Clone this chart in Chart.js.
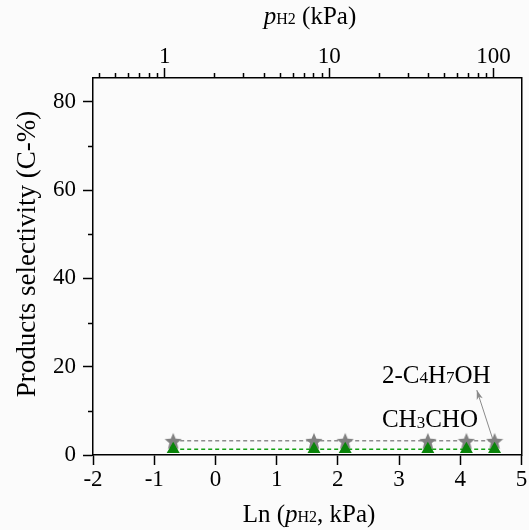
<!DOCTYPE html>
<html lang="en">
<head>
  <meta charset="UTF-8" />
  <title>Products selectivity vs Ln(pH2)</title>
  <script src="https://cdn.jsdelivr.net/npm/chart.js"></script>
  <style>
    body { margin: 0; background: #fbfbfb; }
    #wrap { width: 529px; height: 530px; }
  </style>
</head>
<body>
  <div id="wrap"><canvas id="chart" width="529" height="530"></canvas></div>

  <script>
    // ── data ─────────────────────────────────────────────────
    const lnP = [-0.69, 1.61, 2.12, 3.47, 4.10, 4.56];
    const butenol = [3.2, 3.2, 3.2, 3.2, 3.2, 3.2];       // 2-C4H7OH (grey stars)
    const acetaldehyde = [1.3, 1.3, 1.3, 1.3, 1.3, 1.3];  // CH3CHO (green triangles)

    const xTicks = [-2, -1, 0, 1, 2, 3, 4, 5];
    const yMajorTicks = [0, 20, 40, 60, 80];
    const yMinorTicks = [10, 30, 50, 70];
    const topMajorTicks = [1, 10, 100];
    const topMinorTicks = [0.4, 0.5, 0.6, 0.7, 0.8, 0.9, 2, 3, 4, 5, 6, 7, 8, 9, 20, 30, 40, 50, 60, 70, 80, 90];

    const SERIF = '"Liberation Serif", "Times New Roman", serif';

    // filled five point star marker
    function starImage(size, color) {
      const c = document.createElement('canvas');
      c.width = size; c.height = size;
      const g = c.getContext('2d');
      const R = size / 2, r = R * 0.45, cx = size / 2, cy = size / 2 + 1;
      g.beginPath();
      for (let i = 0; i < 10; i++) {
        const rad = i % 2 ? r : R;
        const a = -Math.PI / 2 + i * Math.PI / 5;
        g.lineTo(cx + rad * Math.cos(a), cy + rad * Math.sin(a));
      }
      g.closePath();
      g.fillStyle = color;
      g.fill();
      return c;
    }

    // draw a run of [text, size, dy, italic] pieces
    function drawRuns(ctx, runs, x, y, align) {
      const font = r => `${r[3] ? 'italic ' : ''}${r[1]}px ${SERIF}`;
      let total = 0;
      runs.forEach(r => { ctx.font = font(r); total += ctx.measureText(r[0]).width; });
      let cx = align === 'center' ? x - total / 2 : x;
      ctx.textAlign = 'left';
      ctx.textBaseline = 'alphabetic';
      runs.forEach(r => {
        ctx.font = font(r);
        ctx.fillText(r[0], cx, y + r[2]);
        cx += ctx.measureText(r[0]).width;
      });
    }

    const extras = {
      id: 'extras',
      afterDraw(chart) {
        const ctx = chart.ctx;
        const { x, y, xTop } = chart.scales;
        ctx.save();
        ctx.strokeStyle = '#000';
        ctx.lineWidth = 1.5;
        // minor ticks
        ctx.beginPath();
        yMinorTicks.forEach(v => {
          const py = Math.round(y.getPixelForValue(v)) + 0.5;
          ctx.moveTo(y.right - 5, py); ctx.lineTo(y.right, py);
        });
        topMinorTicks.forEach(v => {
          const px = Math.round(xTop.getPixelForValue(v)) + 0.5;
          ctx.moveTo(px, xTop.bottom); ctx.lineTo(px, xTop.bottom - 5);
        });
        ctx.stroke();

        ctx.fillStyle = '#000';
        // axis titles
        drawRuns(ctx, [['p', 25, 0, true], ['H2', 16, 0, false], [' (kPa)', 25, 0, false]], 310, 24, 'center');
        drawRuns(ctx, [['Ln (', 25, 0, false], ['p', 25, 0, true], ['H2', 16, 0, false], [', kPa)', 25, 0, false]], 309, 522, 'center');
        ctx.save();
        ctx.translate(35, 254);
        ctx.rotate(-Math.PI / 2);
        drawRuns(ctx, [['Products selectivity (C-%)', 27, 0, false]], 0, 0, 'center');
        ctx.restore();

        // labels for the series
        drawRuns(ctx, [['2-C', 25, 0, false], ['4', 17, 0, false], ['H', 25, 0, false], ['7', 17, 0, false], ['OH', 25, 0, false]],
          x.getPixelForValue(2.72), y.getPixelForValue(16.3), 'left');
        drawRuns(ctx, [['CH', 25, 0, false], ['3', 17, 1, false], ['CHO', 25, 0, false]],
          x.getPixelForValue(2.72), y.getPixelForValue(6.35), 'left');

        // arrow to the butenol series
        const x0 = x.getPixelForValue(4.53), y0 = y.getPixelForValue(3.6);
        const x1 = x.getPixelForValue(4.27), y1 = y.getPixelForValue(14.7);
        ctx.strokeStyle = '#8a8a8a';
        ctx.fillStyle = '#8a8a8a';
        ctx.lineWidth = 1;
        ctx.beginPath();
        ctx.moveTo(x0, y0); ctx.lineTo(x1, y1);
        ctx.stroke();
        const a = Math.atan2(y1 - y0, x1 - x0);
        ctx.beginPath();
        ctx.moveTo(x1, y1);
        ctx.lineTo(x1 - 10 * Math.cos(a - 0.32), y1 - 10 * Math.sin(a - 0.32));
        ctx.lineTo(x1 - 7 * Math.cos(a), y1 - 7 * Math.sin(a));
        ctx.lineTo(x1 - 10 * Math.cos(a + 0.32), y1 - 10 * Math.sin(a + 0.32));
        ctx.closePath();
        ctx.fill();
        ctx.restore();
      }
    };

    const tickFont = { family: SERIF, size: 23 };
    const axisGrid = { display: true, drawOnChartArea: false, tickLength: 10, tickWidth: 1.5, tickColor: '#000' };
    const axisBorder = { display: true, color: '#000', width: 1.5 };

    new Chart(document.getElementById('chart'), {
      type: 'scatter',
      data: {
        datasets: [
          {
            label: '2-C4H7OH',
            data: lnP.map((v, i) => ({ x: v, y: butenol[i] })),
            showLine: true,
            borderColor: '#8c8c8c',
            borderWidth: 1.5,
            borderDash: [4, 3],
            pointStyle: starImage(18, '#808080'),
            order: 2
          },
          {
            label: 'CH3CHO',
            data: lnP.map((v, i) => ({ x: v, y: acetaldehyde[i] })),
            showLine: true,
            borderColor: '#14a014',
            borderWidth: 1.5,
            borderDash: [4, 3],
            pointStyle: 'triangle',
            pointRadius: 7.5,
            pointBackgroundColor: '#0a840a',
            pointBorderWidth: 0,
            order: 1
          }
        ]
      },
      options: {
        responsive: false,
        animation: false,
        layout: { padding: 0 },
        plugins: { legend: { display: false }, tooltip: { enabled: false } },
        scales: {
          x: {
            type: 'linear', position: 'bottom', min: -2, max: 5,
            afterBuildTicks: s => { s.ticks = xTicks.map(v => ({ value: v })); },
            afterFit: s => { s.height = 75; },
            grid: axisGrid, border: axisBorder,
            ticks: { font: tickFont, color: '#000', padding: 1, maxRotation: 0 }
          },
          xTop: {
            type: 'logarithmic', position: 'top', min: 0.366, max: 147.9,
            afterBuildTicks: s => { s.ticks = topMajorTicks.map(v => ({ value: v })); },
            afterFit: s => { s.height = 78; },
            grid: axisGrid, border: axisBorder,
            ticks: { font: tickFont, color: '#000', padding: -3, maxRotation: 0, callback: v => String(v) }
          },
          y: {
            position: 'left', min: 0, max: 85.4,
            afterBuildTicks: s => { s.ticks = yMajorTicks.map(v => ({ value: v })); },
            afterFit: s => { s.width = 93; },
            grid: axisGrid, border: axisBorder,
            ticks: { font: tickFont, color: '#000', padding: 7 }
          },
          yRight: {
            position: 'right', min: 0, max: 85.4,
            afterFit: s => { s.width = 6; },
            grid: { display: false }, border: axisBorder,
            ticks: { display: false }
          }
        }
      },
      plugins: [extras]
    });
  </script>
</body>
</html>
